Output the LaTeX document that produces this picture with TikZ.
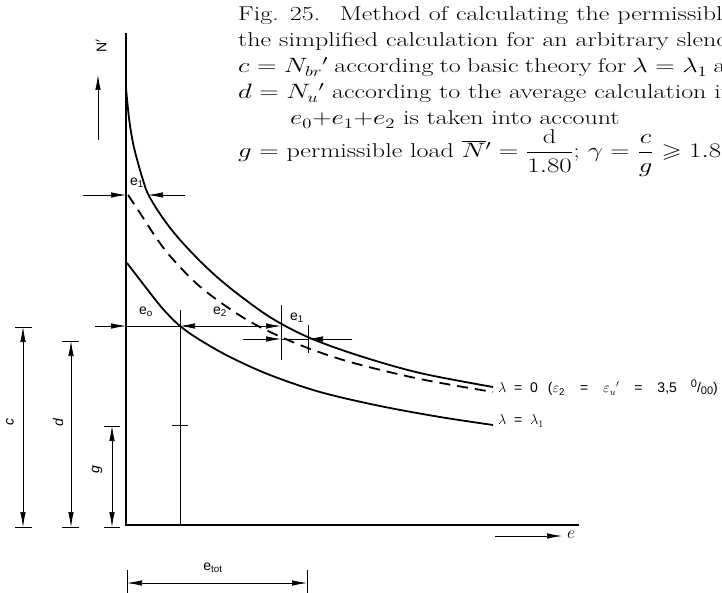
\documentclass[tikz,border=0pt]{standalone}
\usepackage{amsmath,amssymb}
\usepackage{fontspec}
\newfontfamily\lab{Liberation Sans}
\usetikzlibrary{arrows.meta}
\newcommand{\wide}[2]{\scalebox{1.3}[1]{\makebox[#1][s]{#2}}}
\begin{document}
\begin{tikzpicture}[x=1pt,y=-1pt,
  >={Latex[length=15pt,width=5.5pt]},
  captext/.style={font=\fontsize{20}{24}\selectfont, inner sep=0pt, anchor=base west},
  lbl/.style={font=\lab\fontsize{14}{16}\selectfont, inner sep=1pt},
  solidcurve/.style={line width=1.8pt},
  dashcurve/.style={line width=1.8pt, dash pattern=on 11pt off 7pt},
  axisline/.style={line width=1.6pt},
  dimline/.style={line width=0.7pt},
  tickline/.style={line width=0.9pt}]
\useasboundingbox (0,0) rectangle (722,593);
\clip (0,0) rectangle (722,593);

% caption (cut by the right edge, as in the source page)
\node[captext] (l1) at (238,21) {\wide{380.8pt}{Fig. 25.\hspace{0.75em}Method of calculating the permissible}};
\node[captext] (l2) at (238,47) {\wide{426pt}{the simplified calculation for an arbitrary slenderness}};
\node[captext] (l3) at (238,73) {\wide{395.4pt}{$c=N_{br}{}'$ according to basic theory for $\lambda=\lambda_1$ and}};
\node[captext] (l4) at (238,99) {\wide{381.5pt}{$d=N_u{}'$ according to the average calculation in}};
\node[captext] (l5) at (290,125) {\scalebox{1.3}[1]{$e_0{+}e_1{+}e_2$ is taken into account}};
\node[captext] (l6) at (238,158) {\scalebox{1.3}[1]{$g=$ permissible load $\overline{N}{}'=\dfrac{\mathrm{d}}{1.80}$;\ $\gamma=\dfrac{c}{g}\geqslant 1.80$}};

% axes
\coordinate (ytop) at (126,33);
\coordinate (orig) at (126,525);
\coordinate (xend) at (579,525);
\draw[axisline] (ytop) -- (orig) -- (xend);

% N' arrow and label
\coordinate (na) at (98,140);
\coordinate (nb) at (98,75);
\draw[dimline,->] (na) -- (nb);
\node[lbl,rotate=90] (nlab) at (101,46) {N$'$};

% e arrow and label
\coordinate (ea) at (495,536);
\coordinate (eb) at (562,536);
\draw[dimline,->] (ea) -- (eb);
\node[inner sep=1pt,font=\fontsize{17}{20}\selectfont,anchor=west] (elab) at (566,535) {$e$};

% curves
\draw[solidcurve] plot[smooth,tension=0.55] coordinates {(126,88) (129,118) (133,143) (138,163) (143,180) (148,194) (160,214) (175,234) (195,256) (217,277) (243,298) (273,319) (310,338) (360,356) (420,373) (493,387)};
\draw[dashcurve] plot[smooth,tension=0.55] coordinates {(128,195) (140,213) (155,236) (170,256) (197,284) (227,307) (258,326) (300,345) (350,362) (420,379) (493,392)};
\draw[solidcurve] plot[smooth,tension=0.55] coordinates {(127,263) (147,289) (163,309) (180,326) (200,340) (230,357) (270,375) (320,392) (380,406) (440,417) (493,425)};

\node[lbl,anchor=west] (lam0) at (497,388) {$\lambda$\ \ =\ \ 0 \hspace{6pt}($\varepsilon$\textsubscript{2}\hspace{15pt}=\hspace{15pt}$\varepsilon_u{}'$\hspace{15pt}=\hspace{15pt}3,5\hspace{14pt}\raisebox{5pt}{\fontsize{11}{12}\selectfont 0}/\raisebox{-2pt}{\fontsize{11}{12}\selectfont 00})};
\node[lbl,anchor=west] (lam1) at (497,421) {$\lambda$\ \ =\ \ $\lambda_1$};

% e1 (top)
\coordinate (a1) at (83,195);
\coordinate (a2) at (126,195);
\coordinate (a3) at (185,195);
\coordinate (a4) at (148,195);
\draw[dimline,->] (a1) -- (a2);
\draw[dimline,->] (a3) -- (a4);
\node[lbl] (e1top) at (137,183) {e\textsubscript{1}};

% e0 / e2 line
\coordinate (b0) at (95,326);
\coordinate (b1) at (126,326);
\coordinate (b2) at (180,326);
\coordinate (b3) at (281,326);
\draw[dimline,->] (b0) -- (b1);
\draw[dimline] (b1) -- (b2);
\draw[dimline,<->] (b2) -- (b3);
\node[lbl] (e0) at (146,312) {e\textsubscript{o}};
\node[lbl] (e2) at (220,312) {e\textsubscript{2}};

% vertical through e0 point
\coordinate (v1t) at (180,310);
\coordinate (v1b) at (180,525);
\draw[dimline] (v1t) -- (v1b);
\coordinate (tk1) at (172,425);
\coordinate (tk2) at (188,425);
\draw[dimline] (tk1) -- (tk2);

% e1 (lower)
\coordinate (v2t) at (281,305);
\coordinate (v2b) at (281,360);
\draw[dimline] (v2t) -- (v2b);
\coordinate (v3t) at (308,325);
\coordinate (v3b) at (308,353);
\draw[dimline] (v3t) -- (v3b);
\coordinate (c1) at (243,339);
\coordinate (c2) at (281,339);
\coordinate (c3) at (352,339);
\coordinate (c4) at (308,339);
\draw[dimline,->] (c1) -- (c2);
\draw[dimline,->] (c3) -- (c4);
\draw[dimline] (c2) -- (c4);
\node[lbl] (e1low) at (297,318) {e\textsubscript{1}};

% dimension c
\coordinate (ct) at (23,327);
\coordinate (cb) at (23,527);
\draw[dimline,<->] (ct) -- (cb);
\draw[tickline] (15,327) -- (32,327);
\draw[tickline] (15,527) -- (32,527);
\node[lbl,rotate=90] (clab) at (10,422) {\itshape c};

% dimension d
\coordinate (dt) at (71,341);
\coordinate (db) at (71,527);
\draw[dimline,<->] (dt) -- (db);
\draw[tickline] (62,341) -- (79,341);
\draw[tickline] (62,527) -- (79,527);
\node[lbl,rotate=90] (dlab) at (58,423) {\itshape d};

% dimension g
\coordinate (gt) at (112,426);
\coordinate (gb) at (112,527);
\draw[dimline,<->] (gt) -- (gb);
\draw[tickline] (104,426) -- (120,426);
\draw[tickline] (104,527) -- (120,527);
\node[lbl,rotate=90] (glab) at (97,470) {\itshape g};

% e_tot
\coordinate (tl) at (127,583);
\coordinate (tr) at (307,583);
\draw[dimline,<->] (tl) -- (tr);
\draw[tickline] (127,570) -- (127,593);
\draw[tickline] (307,570) -- (307,593);
\node[lbl] (etot) at (213,568) {e\textsubscript{tot}};
\end{tikzpicture}
\end{document}
